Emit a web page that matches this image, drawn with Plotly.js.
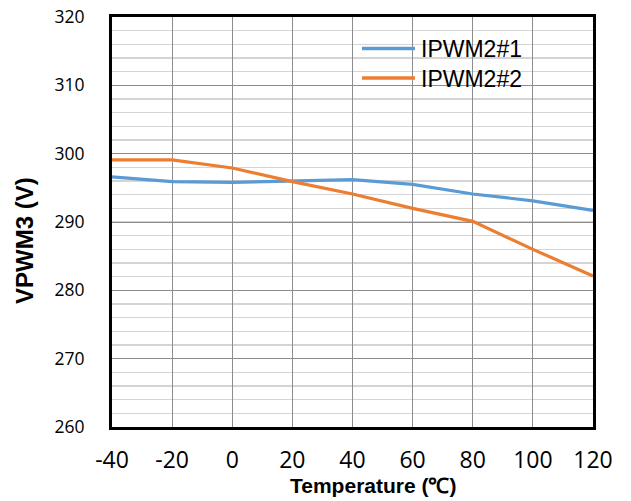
<!DOCTYPE html>
<html>
<head>
<meta charset="utf-8">
<script src="https://cdn.plot.ly/plotly-3.0.1.min.js"></script>
<style>html,body{margin:0;padding:0;background:#fff;}#chart{width:631px;height:501px;}</style>
</head>
<body>
<div id="chart"></div>
<script>
var temperatures = [-40, -20, 0, 20, 40, 60, 80, 100, 120];
var ipwm2_1 = [296.6, 295.9, 295.8, 296.0, 296.2, 295.5, 294.1, 293.1, 291.7];
var ipwm2_2 = [299.1, 299.1, 297.9, 295.9, 294.1, 292.0, 290.1, 286.0, 282.1];
var seriesNames = ["IPWM2#1", "IPWM2#2"];
var seriesColors = ['#5B9BD5', '#ED7D31'];
var xTicks = [-40, -20, 0, 20, 40, 60, 80, 100, 120];
var yTicks = [260, 270, 280, 290, 300, 310, 320];

var traces = [
  {x: temperatures, y: ipwm2_1, name: seriesNames[0], type: 'scatter', mode: 'lines',
   line: {color: seriesColors[0], width: 3.2}},
  {x: temperatures, y: ipwm2_2, name: seriesNames[1], type: 'scatter', mode: 'lines',
   line: {color: seriesColors[1], width: 3.2}}
];

// plot area in pixels: left 112, right 593, top 17, bottom 427
var L = 112, R = 593, T = 17, B = 427;
function px(x) { return (x - L) / (R - L); }
function py(y) { return (B - y) / (B - T); }

var legendShapes = [
  {type: 'rect', xref: 'paper', yref: 'paper', x0: px(358), x1: px(550), y0: py(95), y1: py(33),
   fillcolor: '#fff', line: {width: 0}, layer: 'between'}
];
var legendAnn = [];
var rowY = [48.5, 78];
for (var i = 0; i < seriesNames.length; i++) {
  legendShapes.push({type: 'line', xref: 'paper', yref: 'paper', x0: px(362), x1: px(415),
    y0: py(rowY[i]), y1: py(rowY[i]), line: {color: seriesColors[i], width: 3.5}, layer: 'above'});
  legendAnn.push({text: seriesNames[i], xref: 'paper', yref: 'paper', x: px(419), y: py(rowY[i] + 0.5),
    xanchor: 'left', yanchor: 'middle', showarrow: false,
    font: {family: 'Arial, Liberation Sans', size: 23, color: '#000'}});
}

var tickFamily = 'Open Sans, Noto Sans, sans-serif';

var layout = {
  width: 631, height: 501,
  margin: {l: L, r: 631 - R, t: T, b: 501 - B},
  paper_bgcolor: '#fff', plot_bgcolor: '#fff',
  showlegend: false,
  xaxis: {
    range: [-40, 120], tickvals: xTicks, ticktext: xTicks.map(String),
    showgrid: true, gridcolor: '#8c8c8c', gridwidth: 1,
    zeroline: false, showline: true, linecolor: '#000', linewidth: 3, mirror: true,
    ticks: '', ticklabelstandoff: 10,
    tickfont: {family: tickFamily, size: 23, color: '#000', weight: 'normal'}
  },
  yaxis: {
    range: [260, 320], tickvals: yTicks, ticktext: yTicks.map(String),
    showgrid: true, gridcolor: '#8c8c8c', gridwidth: 1,
    minor: {dtick: 2, showgrid: true, gridcolor: '#d4d4d4', gridwidth: 1.5},
    zeroline: false, showline: true, linecolor: '#000', linewidth: 3, mirror: true,
    ticks: '', ticklabelstandoff: 21,
    tickfont: {family: tickFamily, size: 17.5, color: '#000', weight: 'normal'}
  },
  shapes: legendShapes,
  annotations: [
    {text: 'Temperature (℃)', xref: 'paper', yref: 'paper', x: px(373), y: py(486),
     xanchor: 'center', yanchor: 'middle', showarrow: false,
     font: {family: 'Arial, Liberation Sans', size: 21, color: '#000', weight: 'bold'}},
    {text: 'VPWM3 (V)', xref: 'paper', yref: 'paper', x: px(24), y: py(241),
     xanchor: 'center', yanchor: 'middle', showarrow: false, textangle: -90,
     font: {family: 'Arial, Liberation Sans', size: 24, color: '#000', weight: 'bold'}}
  ].concat(legendAnn)
};

Plotly.newPlot('chart', traces, layout, {displayModeBar: false, staticPlot: true});
</script>
</body>
</html>
